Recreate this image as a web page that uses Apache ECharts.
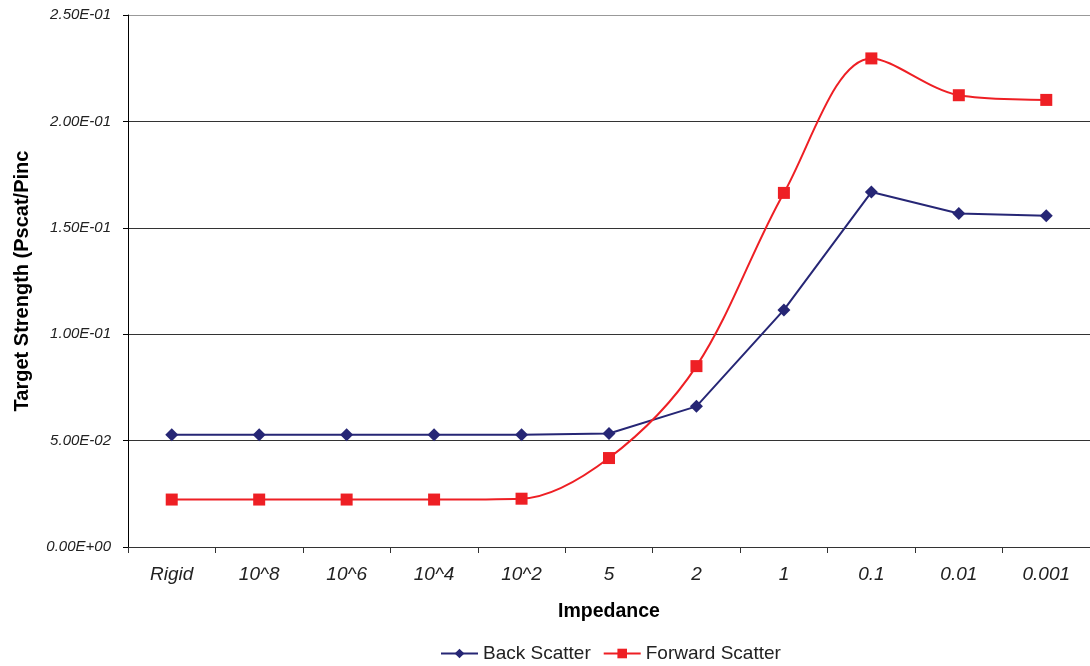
<!DOCTYPE html>
<html>
<head>
<meta charset="utf-8">
<script src="https://cdn.jsdelivr.net/npm/echarts@6/dist/echarts.min.js"></script>
<style>html,body{margin:0;padding:0;background:#fff}#c{width:1090px;height:666px}</style>
</head>
<body>
<div id="c"></div>
<script>
const categories = ['Rigid', '10^8', '10^6', '10^4', '10^2', '5', '2', '1', '0.1', '0.01', '0.001'];
const backScatter = [0.0528, 0.0528, 0.0528, 0.0528, 0.0528, 0.0533, 0.0661, 0.1114, 0.1668, 0.1567, 0.1557];
const forwardScatter = [0.0223, 0.0223, 0.0223, 0.0223, 0.0227, 0.0418, 0.0850, 0.1664, 0.2296, 0.2123, 0.2101];
const yTicks = { min: 0, max: 0.25, interval: 0.05 };

function sci(v) {
  const parts = Number(v).toExponential(2).split('e');
  let e = parts[1];
  const sign = e[0] === '-' ? '-' : '+';
  e = e.replace(/^[+-]/, '');
  if (e.length < 2) e = '0' + e;
  return parts[0] + 'E' + sign + e;
}

const chart = echarts.init(document.getElementById('c'));
chart.setOption({
  backgroundColor: '#fff',
  animation: false,
  textStyle: { fontFamily: 'Liberation Sans, Arial, sans-serif' },
  grid: { left: 128, top: 15, right: -3, bottom: 119, containLabel: false },
  legend: {
    left: 435, top: 639,
    itemWidth: 37, itemHeight: 12, itemGap: 12,
    textStyle: { fontSize: 19, color: '#222', fontFamily: 'Liberation Sans, Arial, sans-serif' },
    data: ['Back Scatter', 'Forward Scatter']
  },
  xAxis: {
    type: 'category',
    data: categories,
    boundaryGap: true,
    name: 'Impedance',
    nameLocation: 'middle',
    nameGap: 55,
    nameTextStyle: { fontSize: 19.5, fontWeight: 'bold', color: '#000' },
    axisLine: { lineStyle: { color: '#333', width: 1 } },
    axisTick: { show: true, length: 6, lineStyle: { color: '#333' } },
    axisLabel: { fontSize: 19, fontStyle: 'italic', color: '#222', margin: 18, interval: 0 },
    splitLine: { show: false }
  },
  yAxis: {
    type: 'value',
    min: yTicks.min, max: yTicks.max, interval: yTicks.interval,
    name: 'Target Strength (Pscat/Pinc)',
    nameLocation: 'middle',
    nameGap: 96,
    nameRotate: 90,
    nameTruncate: { maxWidth: 262, ellipsis: '' },
    nameTextStyle: { fontSize: 20, fontWeight: 'bold', color: '#000' },
    axisLine: { show: true, lineStyle: { color: '#000', width: 1 } },
    axisTick: { show: true, length: 5, lineStyle: { color: '#000' } },
    axisLabel: { fontSize: 15, fontStyle: 'italic', color: '#222', margin: 17, formatter: sci },
    splitLine: { show: true, lineStyle: { color: ['#333', '#333', '#333', '#333', '#333', '#999'], width: 1 } }
  },
  series: [
    {
      name: 'Back Scatter',
      type: 'line',
      data: backScatter,
      smooth: false,
      symbol: 'diamond',
      symbolSize: 13,
      color: '#262675',
      lineStyle: { width: 2, color: '#262675' },
      itemStyle: { color: '#262675' }
    },
    {
      name: 'Forward Scatter',
      type: 'line',
      data: forwardScatter,
      smooth: 0.33,
      symbol: 'rect',
      symbolSize: 12,
      color: '#ee1f24',
      lineStyle: { width: 2, color: '#ee1f24' },
      itemStyle: { color: '#ee1f24' }
    }
  ]
});
</script>
</body>
</html>
